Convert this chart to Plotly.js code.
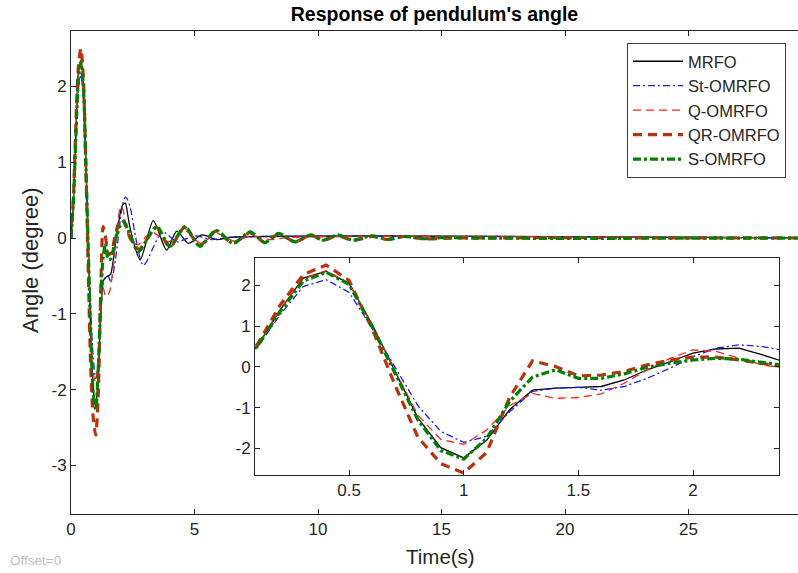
<!DOCTYPE html>
<html>
<head>
<meta charset="utf-8">
<script src="https://cdn.plot.ly/plotly-3.0.1.min.js"></script>
<style>html,body{margin:0;padding:0;background:#fff;}#chart{width:798px;height:573px;}</style>
</head>
<body>
<div id="chart"></div>
<script>
// ---- data ----
var T_EARLY = [0,0.1,0.2,0.3,0.4,0.5,0.6,0.7,0.8,0.9,1.0,1.1,1.2,1.3,1.4,1.5,1.6,1.7,1.8,1.9,2.0,2.1,2.2,2.3,2.4];

var MRFO_EARLY = [0,0.5,1.4,2.18,2.34,2.05,1.05,-0.1,-1.25,-1.98,-2.23,-1.8,-1.05,-0.57,-0.52,-0.5,-0.48,-0.32,-0.07,0.13,0.34,0.44,0.46,0.3,0.12];
var MRFO_TAIL_T = [2.8,3.33,3.87,4.28,4.75,5.3,5.9,6.5,30];
var MRFO_TAIL_V = [-0.29,0.23,-0.16,0.09,-0.07,0.04,-0.02,0.01,0];

var ST_EARLY = [0,0.48,1.28,1.97,2.14,1.83,0.95,0.0,-0.95,-1.58,-1.85,-1.7,-1.1,-0.6,-0.52,-0.5,-0.57,-0.48,-0.28,-0.03,0.25,0.46,0.54,0.5,0.4];
var ST_TAIL_T = [2.93,3.7,4.3,5.0,5.7,6.5,30];
var ST_TAIL_V = [-0.36,0.08,-0.05,0.03,-0.02,0.01,0];

var Q_EARLY = [0,0.52,1.42,2.16,2.36,2.05,1.02,-0.1,-1.18,-1.78,-1.9,-1.55,-0.95,-0.65,-0.77,-0.75,-0.66,-0.4,-0.07,0.21,0.42,0.38,0.21,0.05,-0.03];
var Q_TAIL_T = [2.7,3.25,3.95,4.6,5.25,5.9,6.6,7.3,8.0,9.0,30];
var Q_TAIL_V = [-0.09,0.08,-0.05,0.1,-0.07,0.06,-0.04,0.03,-0.02,0.01,0];

var QR_EARLY = [0,0.55,1.52,2.26,2.5,2.12,0.95,-0.44,-1.72,-2.37,-2.6,-2.1,-0.75,0.15,0.01,-0.22,-0.2,-0.11,0.05,0.17,0.24,0.24,0.17,0.09,0.0];
var QR_TAIL_T = [2.75,3.45,4.0,4.6,5.2,5.87,6.55,7.25,7.85,8.4,9.07,9.7,10.2,10.8,11.4,12.2,12.8,13.5,14.3,15.5,30];
var QR_TAIL_V = [-0.15,0.14,-0.12,0.14,-0.1,0.09,-0.07,0.07,-0.06,0.05,-0.05,0.04,-0.03,0.03,-0.03,0.02,-0.02,0.02,-0.01,0,0];

var S_EARLY = [0,0.5,1.36,2.1,2.32,2.02,1.0,-0.15,-1.3,-2.05,-2.26,-1.75,-0.85,-0.25,-0.07,-0.28,-0.28,-0.17,-0.01,0.09,0.17,0.21,0.19,0.11,0.04];
var S_TAIL_T = [2.72,3.47,4.0,4.61,5.22,5.87,6.57,7.25,7.85,8.4,9.07,9.7,10.2,10.8,11.4,12.2,12.8,13.5,14.3,15.2,16.0,30];
var S_TAIL_V = [-0.18,0.15,-0.11,0.15,-0.11,0.1,-0.07,0.08,-0.06,0.06,-0.05,0.04,-0.03,0.04,-0.03,0.03,-0.02,0.02,-0.01,0.01,0,0];

var NAMES = ['MRFO','St-OMRFO','Q-OMRFO','QR-OMRFO','S-OMRFO'];
var MAIN_XTICKS = [0,5,10,15,20,25];
var MAIN_YTICKS = [-3,-2,-1,0,1,2];
var MAIN_YTEXT = ['-3','-2','-1','0','1','2'];
var INSET_XTICKS = [0.5,1,1.5,2];
var INSET_XTEXT = ['0.5','1','1.5','2'];
var INSET_YTICKS = [-2,-1,0,1,2];
var INSET_YTEXT = ['-2','-1','0','1','2'];

// ---- styles ----
var STYLES = [
  {color:'#000000', width:1.3, dash:'solid'},
  {color:'#1a1aff', width:1.3, dash:'7px,3px,2px,3px'},
  {color:'#ff2020', width:1.3, dash:'8px,5px'},
  {color:'#b8320e', width:3.2, dash:'9px,6px'},
  {color:'#008000', width:3.2, dash:'8px,3px,3px,3px'}
];
var SERIES = [
  [MRFO_EARLY, MRFO_TAIL_T, MRFO_TAIL_V],
  [ST_EARLY, ST_TAIL_T, ST_TAIL_V],
  [Q_EARLY, Q_TAIL_T, Q_TAIL_V],
  [QR_EARLY, QR_TAIL_T, QR_TAIL_V],
  [S_EARLY, S_TAIL_T, S_TAIL_V]
];

var traces = [];
SERIES.forEach(function(s, i){
  var x = T_EARLY.concat(s[1]);
  var y = s[0].concat(s[2]);
  traces.push({x:x, y:y, type:'scatter', mode:'lines', name:NAMES[i], xaxis:'x', yaxis:'y',
    legendgroup:'g'+i, line:{color:STYLES[i].color, width:STYLES[i].width, dash:STYLES[i].dash, shape:'spline', smoothing:0.7}, hoverinfo:'skip'});
});
SERIES.forEach(function(s, i){
  var x = T_EARLY.concat(s[1]);
  var y = s[0].concat(s[2]);
  traces.push({x:x, y:y, type:'scatter', mode:'lines', name:NAMES[i], xaxis:'x2', yaxis:'y2', showlegend:false,
    line:{color:STYLES[i].color, width:STYLES[i].width, dash:STYLES[i].dash}, hoverinfo:'skip'});
});

var AX = '#262626';
var FONT = 'Liberation Sans, Arial, sans-serif';
var axBase = {ticks:'inside', ticklen:5, tickcolor:AX, showline:true, linecolor:AX, linewidth:1,
  showgrid:false, zeroline:false, tickfont:{family:FONT, size:17, color:AX}};

var layout = {
  width:798, height:573,
  margin:{l:71, r:0, t:31, b:59, pad:0},
  paper_bgcolor:'#ffffff', plot_bgcolor:'#ffffff',
  font:{family:FONT, color:AX, size:17},
  showlegend:true,
  title:{text:"Response of pendulum's angle", font:{family:FONT, size:19.5, weight:'bold', color:'#000000'},
    x:0.5, xref:'paper', xanchor:'center', y:1-14/573, yref:'container', yanchor:'middle'},
  xaxis:Object.assign({}, axBase, {domain:[0,1], anchor:'y', range:[0,29.43], tickvals:MAIN_XTICKS, mirror:'ticks'}),
  yaxis:Object.assign({}, axBase, {domain:[0,1], anchor:'x', range:[-3.64,2.73], tickvals:MAIN_YTICKS, ticktext:MAIN_YTEXT, mirror:false}),
  xaxis2:Object.assign({}, axBase, {domain:[0.2531,0.9739], anchor:'y2', range:[0.09,2.375], tickvals:INSET_XTICKS, ticktext:INSET_XTEXT, mirror:'ticks'}),
  yaxis2:Object.assign({}, axBase, {domain:[0.0807,0.530], anchor:'x2', range:[-2.65,2.67], tickvals:INSET_YTICKS, ticktext:INSET_YTEXT, mirror:'ticks'}),
  legend:{x:(627-71)/727, y:(514-43)/483, xanchor:'left', yanchor:'top', bgcolor:'#ffffff', bordercolor:'#404040', borderwidth:1,
    font:{family:FONT, size:16.5, color:AX}, itemwidth:50, tracegroupgap:0, traceorder:'normal'},
  annotations:[
    {text:'Angle (degree)', xref:'paper', yref:'paper', x:(30-71)/727, y:(514-260)/483, textangle:-90, showarrow:false,
      xanchor:'center', yanchor:'middle', font:{family:FONT, size:22, color:AX}},
    {text:'Time(s)', xref:'paper', yref:'paper', x:(441-71)/727, y:(514-556)/483, showarrow:false,
      xanchor:'center', yanchor:'middle', font:{family:FONT, size:20.5, color:AX}},
    {text:'Offset=0', xref:'paper', yref:'paper', x:(8-71)/727, y:(514-560)/483, showarrow:false,
      xanchor:'left', yanchor:'middle', font:{family:FONT, size:13.5, color:'#c0c0c0'}}
  ]
};

Plotly.newPlot('chart', traces, layout, {displayModeBar:false, staticPlot:true});
</script>
</body>
</html>
